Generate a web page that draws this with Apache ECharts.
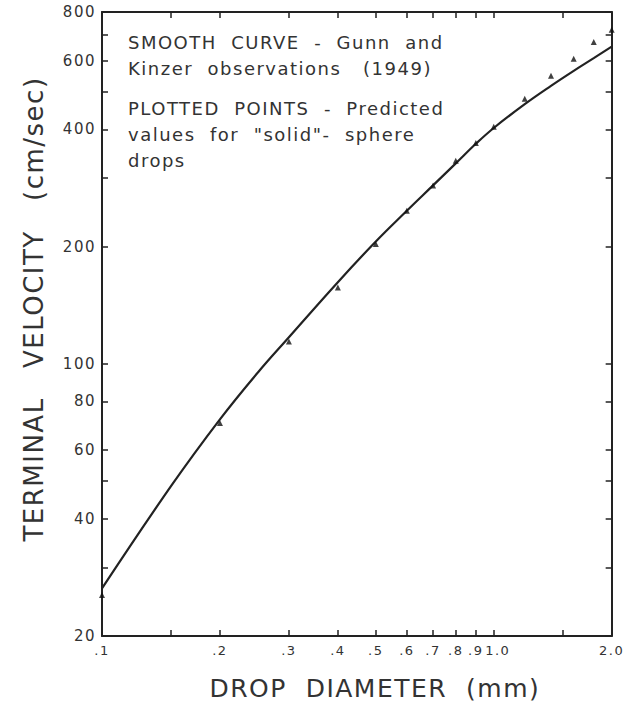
<!DOCTYPE html>
<html>
<head>
<meta charset="utf-8">
<script src="https://cdn.jsdelivr.net/npm/echarts@6.0.0/dist/echarts.min.js"></script>
<style>
  html, body { margin: 0; padding: 0; background: #fff; }
  #chart { width: 625px; height: 706px; letter-spacing: 1.5px; }
</style>
</head>
<body>
<div id="chart"></div>
<script>
// smooth curve - Gunn and Kinzer, drop diameter (mm) / velocity (cm/sec)
var curveDiameters = [0.1, 0.15, 0.2, 0.25, 0.3, 0.4, 0.5, 0.6, 0.7, 0.8, 0.9, 1.0, 1.2, 1.4, 1.6, 1.8, 2.0];
var observed = [26.5, 48.5, 72, 95, 117, 162, 206, 247, 287, 327, 367, 403, 464, 517, 565, 609, 652];
// plotted points - "solid"-sphere prediction
var pointDiameters = [0.1, 0.2, 0.3, 0.4, 0.5, 0.6, 0.7, 0.8, 0.9, 1.0, 1.2, 1.4, 1.6, 1.8, 2.0];
var predicted = [25.5, 70.5, 114, 157, 203, 247, 287, 332, 369, 406, 479, 549, 607, 670, 720];

var xTicks = [0.1, 0.15, 0.2, 0.3, 0.4, 0.5, 0.6, 0.7, 0.8, 0.9, 1.0, 1.5, 2.0];
var xLabels = [0.1, 0.2, 0.3, 0.4, 0.5, 0.6, 0.7, 0.8, 0.9, 1.0, 2.0];
var yTicks = [20, 30, 40, 50, 60, 80, 100, 200, 300, 400, 500, 600, 700, 800];
var yLabels = [20, 40, 60, 80, 100, 200, 400, 600, 800];

var ink = "#222";
var font = "DejaVu Sans";

function pairs(xs, ys) {
  return xs.map(function (x, i) { return [x, ys[i]]; });
}

function xFmt(v) {
  if (v === 1) return "{one|1.0}"; // nudged right, it sits tight against .9
  if (v > 1) return v.toFixed(1);
  return "." + Math.round(v * 10);
}

var chart = echarts.init(document.getElementById("chart"), null, { renderer: "svg" });

var axisLine = { lineStyle: { color: ink, width: 2 } };
var tick = { inside: true, length: 6, lineStyle: { color: ink, width: 1.5 } };

chart.setOption({
  animation: false,
  backgroundColor: "#fff",
  grid: { left: 102, right: 7, top: 12, bottom: 68 },
  xAxis: [
    {
      type: "log",
      min: 0.1,
      max: 2.0,
      name: "DROP  DIAMETER  (mm)",
      nameLocation: "middle",
      nameGap: 40,
      nameTextStyle: { fontFamily: font, fontSize: 25, color: "#333", padding: [0, 0, 0, 36] },
      axisLine: axisLine,
      axisTick: Object.assign({ customValues: xTicks }, tick),
      axisLabel: {
        customValues: xLabels,
        formatter: xFmt,
        margin: 8,
        fontFamily: font,
        fontSize: 13,
        color: "#333",
        rich: {
          one: { fontFamily: font, fontSize: 13, color: "#333", padding: [0, 0, 0, 8] }
        }
      },
      splitLine: { show: false }
    },
    {
      // top frame
      type: "log",
      position: "top",
      min: 0.1,
      max: 2.0,
      axisLine: axisLine,
      axisTick: Object.assign({ customValues: xTicks }, tick),
      axisLabel: { show: false },
      splitLine: { show: false }
    }
  ],
  yAxis: [
    {
      type: "log",
      min: 20,
      max: 800,
      name: "TERMINAL   VELOCITY   (cm/sec)",
      nameLocation: "middle",
      nameGap: 55,
      nameTextStyle: { fontFamily: font, fontSize: 26, color: "#333", padding: [0, 0, 0, 30] },
      axisLine: axisLine,
      axisTick: Object.assign({ customValues: yTicks }, tick),
      axisLabel: {
        customValues: yLabels,
        margin: 6,
        fontFamily: font,
        fontSize: 15,
        color: "#333"
      },
      splitLine: { show: false }
    },
    {
      // right frame
      type: "log",
      position: "right",
      min: 20,
      max: 800,
      axisLine: axisLine,
      axisTick: Object.assign({ customValues: yTicks }, tick),
      axisLabel: { show: false },
      splitLine: { show: false }
    }
  ],
  graphic: [
    {
      type: "text",
      left: 128,
      top: 29,
      style: {
        text: "SMOOTH  CURVE  -  Gunn  and\nKinzer  observations   (1949)",
        font: "18px " + font,
        fill: "#333",
        lineHeight: 26
      }
    },
    {
      type: "text",
      left: 128,
      top: 95,
      style: {
        text: "PLOTTED  POINTS  -  Predicted\nvalues  for  \"solid\"-  sphere\ndrops",
        font: "18px " + font,
        fill: "#333",
        lineHeight: 26
      }
    }
  ],
  series: [
    {
      name: "Gunn and Kinzer",
      type: "line",
      data: pairs(curveDiameters, observed),
      smooth: 0.4,
      showSymbol: false,
      lineStyle: { color: ink, width: 2.2 },
      z: 2
    },
    {
      name: "solid sphere",
      type: "scatter",
      data: pairs(pointDiameters, predicted),
      symbol: "triangle",
      symbolSize: 6,
      itemStyle: { color: "#111" },
      z: 3
    }
  ]
});
</script>
</body>
</html>
